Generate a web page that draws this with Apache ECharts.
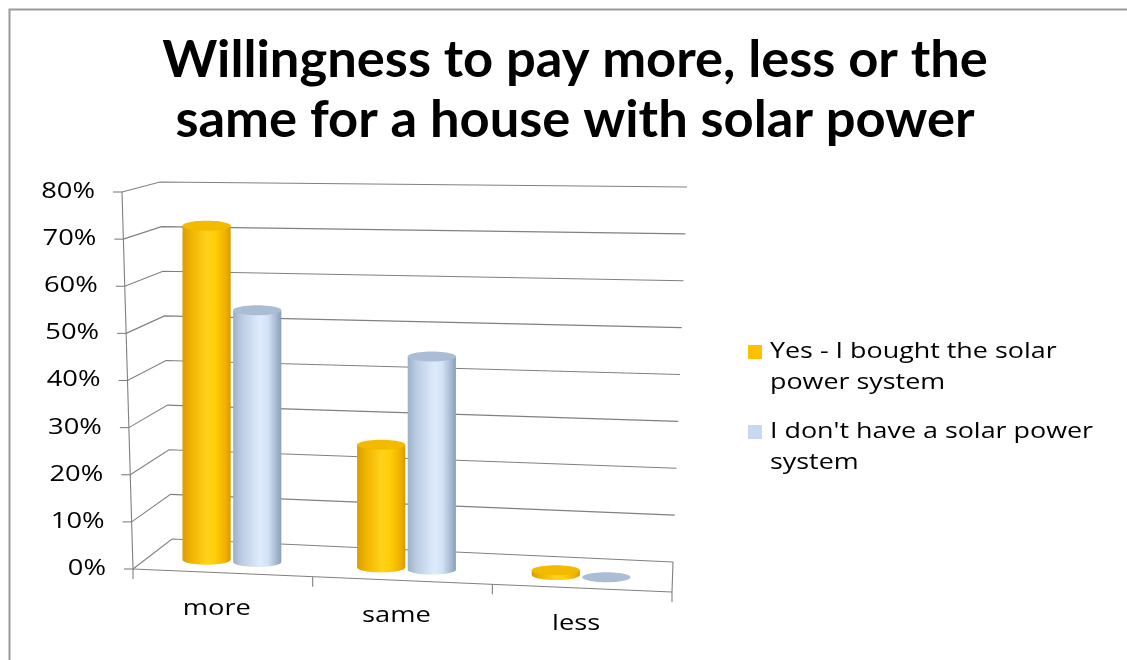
<!DOCTYPE html>
<html><head><meta charset="utf-8">
<script src="https://cdn.jsdelivr.net/npm/echarts@6/dist/echarts.min.js"></script>
<style>html,body{margin:0;padding:0;background:#fff}#c{width:1127px;height:660px}</style>
</head><body><div id="c"></div>
<script>
// ---- data ----
const titleText = 'Willingness to pay more, less or the\nsame for a house with solar power';
const categories = ['more', 'same', 'less'];
const seriesNames = ['Yes - I bought the solar power system', "I don't have a solar power system"];
const legendLines = [['Yes - I bought the solar', 'power system'], ["I don't have a solar power", 'system']];
const boughtValues = [72, 26, 1];
const noSolarValues = [54, 45, 0];
const yTicks = [0, 10, 20, 30, 40, 50, 60, 70, 80];
const yTickLabels = ['0%', '10%', '20%', '30%', '40%', '50%', '60%', '70%', '80%'];

// ---- style / layout ----
const COLORS = ['#FFC000', '#C6D9F1'];
const BODY = [
  [[0,'#DA9E00'],[0.18,'#EFB300'],[0.5,'#FFD21A'],[0.68,'#FFCE08'],[0.9,'#F0B000'],[1,'#D89A00']],
  [[0,'#9CB0C8'],[0.18,'#BBCDE2'],[0.55,'#DDEBFC'],[0.72,'#D2E3F7'],[0.92,'#9FB3CB'],[1,'#8A9EB8']]
];
const TOPC = ['#F3BA00', '#AABDD4'];
const BAR = {offset: 0.145, radius: 0.138, depth: 0.4, ry: 5, dx: -4};
const LBL_FONT = "21px 'Open Sans', sans-serif";
const LBL_SCALE = 1.3;
const GRID_C = '#808080';

function corners(cs) {
  const gx = cs.x, gy = cs.y, gw = cs.width, gh = cs.height;
  return {
    F00: [gx, gy + gh], F01: [gx - 11, gy], F10: [gx + gw, gy + gh + 23], F11: [gx + gw + 14, gy + 5],
    B00: [gx + 39, gy + gh - 30], B01: [gx + 27, gy - 10], B10: [gx + gw + 1, gy + gh - 7], B11: [gx + gw + 15, gy - 5]
  };
}
function bil(a00, a01, a10, a11, u, v, k) {
  return (1-u)*(1-v)*a00[k] + (1-u)*v*a01[k] + u*(1-v)*a10[k] + u*v*a11[k];
}
function proj(cs, u, v, d) {
  const c = corners(cs);
  const fx = bil(c.F00, c.F01, c.F10, c.F11, u, v, 0), fy = bil(c.F00, c.F01, c.F10, c.F11, u, v, 1);
  const bx = bil(c.B00, c.B01, c.B10, c.B11, u, v, 0), by = bil(c.B00, c.B01, c.B10, c.B11, u, v, 1);
  return [fx + (bx - fx) * d, fy + (by - fy) * d];
}
function uv(cs, p) {
  return [(p[0] - cs.x) / cs.width, (cs.y + cs.height - p[1]) / cs.height];
}
function arcPts(cx, cy, rx, ry, a0, a1, n) {
  const pts = [];
  for (let i = 0; i <= n; i++) {
    const a = a0 + (a1 - a0) * i / n;
    pts.push([cx + rx * Math.cos(a), cy + ry * Math.sin(a)]);
  }
  return pts;
}

function cylRender(si) {
  return function (params, api) {
    const cs = params.coordSys;
    const ci = api.value(0), val = api.value(1);
    const p = api.coord([ci, val]);
    const band = api.size([1, 0])[0];
    const off = (si === 0 ? -1 : 1) * BAR.offset * band;
    const q = uv(cs, [p[0] + off, p[1]]);
    const du = BAR.radius * band / cs.width;
    const base = proj(cs, q[0], 0, BAR.depth), top = proj(cs, q[0], q[1], BAR.depth);
    const l = proj(cs, q[0] - du, 0, BAR.depth), r2 = proj(cs, q[0] + du, 0, BAR.depth);
    const r = (r2[0] - l[0]) / 2;
    const cx = base[0] + BAR.dx, by = base[1], ty = top[1], ry = BAR.ry;
    const children = [];
    if (by - ty > 0.5) {
      const pts = [[cx - r, ty], [cx - r, by]].concat(arcPts(cx, by, r, ry, Math.PI, 0, 30)).concat([[cx + r, ty]]);
      children.push({
        type: 'polygon', shape: {points: pts},
        style: {fill: {type: 'linear', x: 0, y: 0, x2: 1, y2: 0,
          colorStops: BODY[si].map(s => ({offset: s[0], color: s[1]}))}}
      });
    }
    children.push({
      type: 'polygon', shape: {points: arcPts(cx, ty, r, ry, 0, Math.PI * 2, 48)},
      style: {fill: TOPC[si]}
    });
    return {type: 'group', children: children};
  };
}

function gridRender(params, api) {
  const cs = params.coordSys;
  const p = api.coord([0, api.value(1)]);
  const v = uv(cs, p)[1];
  const f = proj(cs, 0, v, 0), b = proj(cs, 0, v, 1), br = proj(cs, 1, v, 1);
  return {type: 'group', children: [
    {type: 'polyline', shape: {points: [f, b, br]}, style: {stroke: GRID_C, lineWidth: 1.1, fill: null}},
    {type: 'line', shape: {x1: f[0] - 9, y1: f[1], x2: f[0], y2: f[1]}, style: {stroke: GRID_C, lineWidth: 1.1}},
    {type: 'text', x: f[0] - 27, y: f[1], scaleX: LBL_SCALE,
      style: {text: yTickLabels[params.dataIndex], font: LBL_FONT, fill: '#000', align: 'right', verticalAlign: 'middle'}}
  ]};
}

function floorRender(params, api) {
  const cs = params.coordSys;
  const i = api.value(0);
  const band = api.size([1, 0])[0];
  const pc = api.coord([i, 0]);
  const uc = uv(cs, pc)[0];
  const ul = uv(cs, [pc[0] - band / 2, pc[1]])[0];
  const ur = uv(cs, [pc[0] + band / 2, pc[1]])[0];
  const children = [];
  const lab = proj(cs, uc, 0, 0);
  const tl = proj(cs, ul, 0, 0);
  const ls = {stroke: GRID_C, lineWidth: 1.1};
  children.push({type: 'line', shape: {x1: tl[0], y1: tl[1], x2: tl[0], y2: tl[1] + 10}, style: ls});
  if (params.dataIndex === categories.length - 1) {
    const tr = proj(cs, ur, 0, 0), trb = proj(cs, ur, 0, 1);
    children.push({type: 'line', shape: {x1: tr[0], y1: tr[1], x2: tr[0], y2: tr[1] + 10}, style: ls});
    children.push({type: 'line', shape: {x1: tr[0], y1: tr[1], x2: trb[0], y2: trb[1]}, style: ls});
  }
  if (params.dataIndex === 0) {
    const a = proj(cs, 0, 0, 0), b = proj(cs, 1, 0, 0), c = proj(cs, 0, 1, 0);
    children.push({type: 'line', shape: {x1: a[0], y1: a[1], x2: b[0], y2: b[1]}, style: ls});
    children.push({type: 'line', shape: {x1: a[0], y1: a[1], x2: c[0], y2: c[1]}, style: ls});
  }
  children.push({type: 'text', x: lab[0] - 6, y: lab[1] + 36, scaleX: LBL_SCALE,
    style: {text: categories[params.dataIndex], font: LBL_FONT, fill: '#000', align: 'center', verticalAlign: 'middle'}});
  return {type: 'group', children: children};
}

const legendGraphics = [];
legendLines.forEach((lines, i) => {
  legendGraphics.push({type: 'rect', left: 748, top: 345 + 80 * i, shape: {width: 14, height: 14}, style: {fill: COLORS[i]}});
  legendGraphics.push({type: 'text', x: 770, y: 336.5 + 80 * i, scaleX: 1.28,
    style: {text: lines.join('\n'), font: LBL_FONT, lineHeight: 31, fill: '#000', verticalAlign: 'top'}});
});

const chart = echarts.init(document.getElementById('c'), null, {renderer: 'canvas'});
chart.setOption({
  backgroundColor: '#fff',
  animation: false,
  title: {
    text: titleText, left: 570, textAlign: 'center', top: 25,
    textStyle: {fontFamily: "'Lato', sans-serif", fontWeight: 'bold', fontSize: 52.5, lineHeight: 60, color: '#000'}
  },
  grid: {left: 133, top: 192, width: 539, height: 377},
  xAxis: {type: 'category', data: categories, show: false},
  yAxis: {type: 'value', min: 0, max: 80, interval: 10, show: false},
  graphic: [
    {type: 'rect', left: 7, top: 7, shape: {width: 1300, height: 1000}, style: {fill: 'none', stroke: '#9a9a9a', lineWidth: 2}, silent: true}
  ].concat(legendGraphics),
  series: [
    {type: 'custom', name: 'grid', z: 1, renderItem: gridRender, data: yTicks.map(t => [0, t]), silent: true},
    {type: 'custom', name: 'floor', z: 1, renderItem: floorRender, data: categories.map((c, i) => [i, 0]), silent: true},
    {type: 'custom', name: seriesNames[0], z: 3, renderItem: cylRender(0), itemStyle: {color: COLORS[0]},
      data: boughtValues.map((v, i) => [i, v])},
    {type: 'custom', name: seriesNames[1], z: 3, renderItem: cylRender(1), itemStyle: {color: COLORS[1]},
      data: noSolarValues.map((v, i) => [i, v])}
  ]
});
</script></body></html>
